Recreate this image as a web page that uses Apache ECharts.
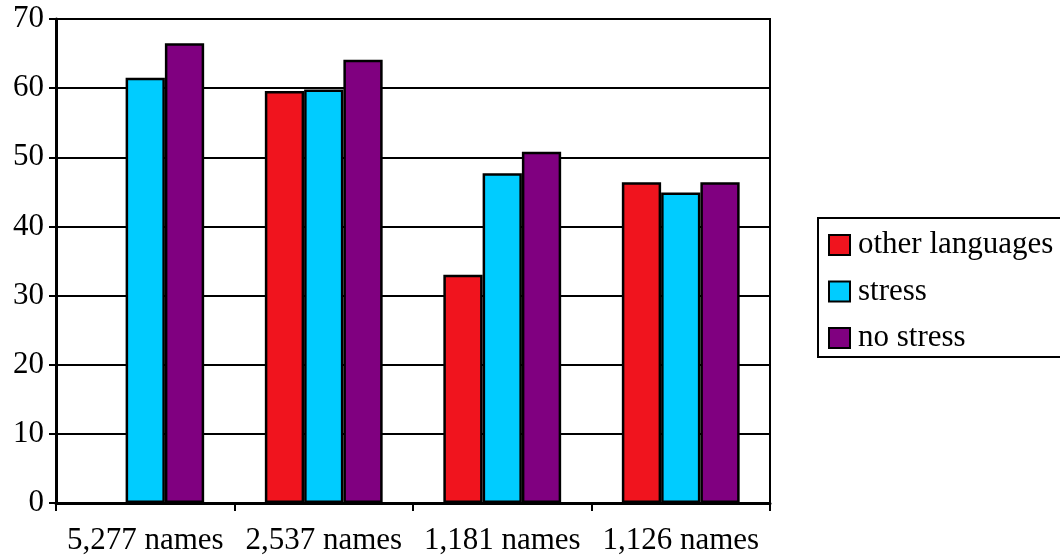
<!DOCTYPE html>
<html>
<head>
<meta charset="utf-8">
<style>
  html, body { margin: 0; padding: 0; background: #fff; }
  #chart { width: 1060px; height: 556px; }
</style>
<script src="https://cdn.jsdelivr.net/npm/echarts@6/dist/echarts.min.js"></script>
</head>
<body>
<div id="chart"></div>
<script>
// Name counts per group
const categories = ['5,277 names', '2,537 names', '1,181 names', '1,126 names'];

// Percentages per group; the first group has no "other languages" value
const otherLanguages = [null, 59.6, 33.0, 46.4];
const stress = [61.5, 59.8, 47.7, 44.9];
const noStress = [66.5, 64.1, 50.8, 46.4];

const yTicks = { min: 0, max: 70, interval: 10 };

const FONT = '"Liberation Serif", "DejaVu Serif", serif';
const FONT_SIZE = 31;
const chart = echarts.init(document.getElementById('chart'), null, { renderer: 'canvas' });

function barSeries(name, data, color) {
  return {
    name: name,
    type: 'bar',
    data: data,
    barGap: '0%',
    barCategoryGap: '34%',
    itemStyle: { color: color, borderColor: '#000', borderWidth: 2.5 },
    emphasis: { disabled: true }
  };
}

chart.setOption({
  animation: false,
  backgroundColor: '#fff',
  textStyle: { fontFamily: FONT },
  grid: {
    left: 56, right: 290, top: 19, bottom: 53,
    show: true, borderColor: '#000', borderWidth: 2, backgroundColor: 'transparent'
  },
  xAxis: {
    type: 'category',
    data: categories,
    boundaryGap: true,
    axisLine: { lineStyle: { color: '#000', width: 3 } },
    axisTick: { show: true, length: 8, interval: 0, lineStyle: { color: '#000', width: 2 } },
    axisLabel: { color: '#000', fontSize: FONT_SIZE, fontFamily: FONT, margin: 22, interval: 0 },
    z: 10
  },
  yAxis: {
    type: 'value',
    min: yTicks.min, max: yTicks.max, interval: yTicks.interval,
    axisLine: { show: true, lineStyle: { color: '#000', width: 3 } },
    axisTick: { show: true, length: 7, lineStyle: { color: '#000', width: 2 } },
    axisLabel: { color: '#000', fontSize: FONT_SIZE, fontFamily: FONT, margin: 12 },
    splitLine: { show: true, lineStyle: { color: '#000', width: 2 } }
  },
  legend: {
    orient: 'vertical',
    left: 828, top: 229,
    padding: 0,
    itemWidth: 21, itemHeight: 20, itemGap: 14.5,
    icon: 'rect',
    textStyle: {
      color: '#000', fontSize: FONT_SIZE, fontFamily: FONT,
      lineHeight: 32, padding: [0, 0, 0, 3]
    },
    data: ['other languages', 'stress', 'no stress']
  },
  graphic: [{
    type: 'rect',
    shape: { x: 818, y: 218, width: 260, height: 139 },
    style: { fill: 'none', stroke: '#000', lineWidth: 2 },
    z: -1
  }],
  series: [
    barSeries('other languages', otherLanguages, '#F0141E'),
    barSeries('stress', stress, '#00CCFF'),
    barSeries('no stress', noStress, '#800080')
  ]
});
</script>
</body>
</html>
